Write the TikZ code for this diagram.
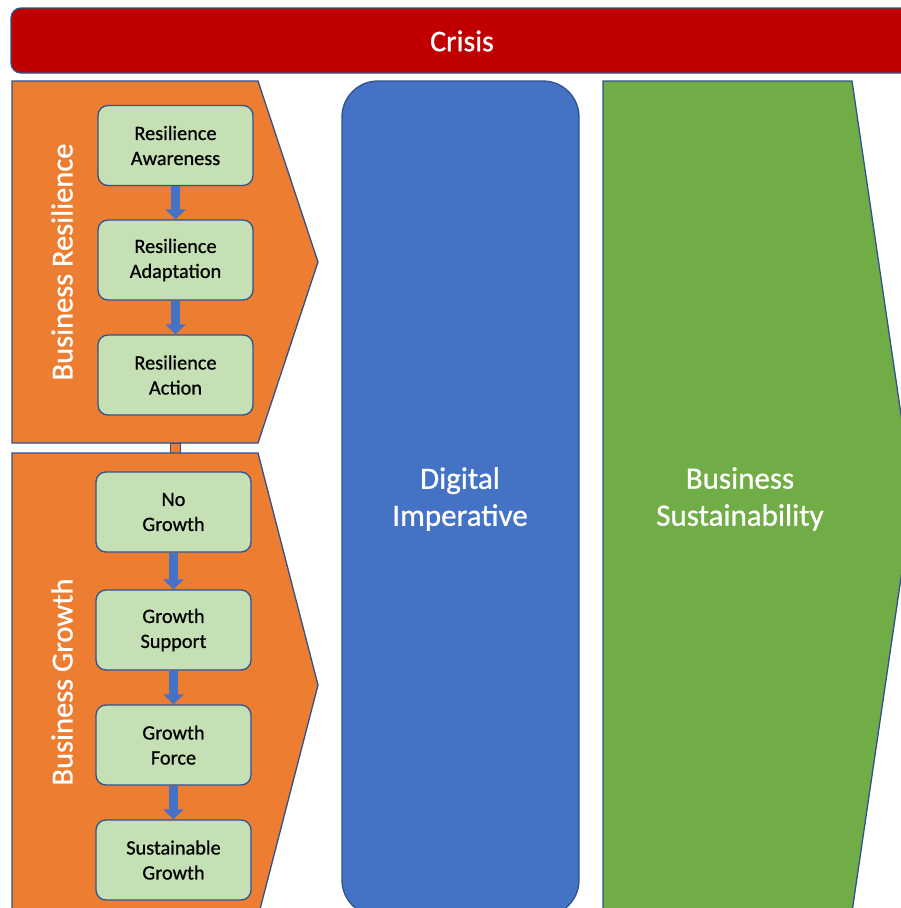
\documentclass[tikz,border=0pt]{standalone}
\usepackage{fontspec}
\setmainfont{Carlito}
\newfontfamily\labelfont{Carlito}[FakeBold=0.8]
\usetikzlibrary{arrows.meta}

\definecolor{crisisred}{HTML}{C00000}
\definecolor{phaseorange}{HTML}{ED7D31}
\definecolor{digitalblue}{HTML}{4472C4}
\definecolor{sustaingreen}{HTML}{70AD47}
\definecolor{stagegreen}{HTML}{C5E0B4}
\definecolor{edgeblue}{HTML}{2F528F}

\begin{document}
\begin{tikzpicture}[x=1pt,y=-1pt,
    shapeline/.style={draw=edgeblue, line width=1.3pt},
    stagebox/.style={shapeline, fill=stagegreen, rounded corners=10pt,
        minimum width=155pt, minimum height=80pt, align=center,
        font=\labelfont\fontsize{20.3}{25}\selectfont},
    steparrow/.style={draw=digitalblue, line width=9pt,
        -{Triangle[width=20pt,length=10pt]}},
    bigtext/.style={text=white, align=center, font=\labelfont\fontsize{31}{37}\selectfont},
    sidetext/.style={rotate=90, text=white, font=\labelfont\fontsize{30.5}{34}\selectfont}]

    % Fix the picture size and cut off what runs past the edges
    \useasboundingbox (0,0) rectangle (901,908);
    \clip (0,0) rectangle (901,908);

    % Crisis bar
    \draw[shapeline, fill=crisisred, rounded corners=10pt] (11,8) rectangle (913,73);
    \node[text=white, font=\labelfont\fontsize{30}{34}\selectfont] (crisis) at (462,41) {Crisis};

    % Business resilience chevron
    \draw[shapeline, fill=phaseorange] (12,81) -- (258,81) -- (318,262) -- (258,443) -- (12,443) -- cycle;
    % Small link between the two chevrons
    \draw[shapeline, fill=phaseorange, line width=0.8pt] (170,443) rectangle (180,453);
    % Business growth chevron
    \draw[shapeline, fill=phaseorange] (12,453) -- (258,453) -- (318,685) -- (258,917) -- (12,917) -- cycle;

    % Digital imperative block
    \draw[shapeline, fill=digitalblue, rounded corners=36pt] (342,81) rectangle (579,916);

    % Business sustainability chevron
    \draw[shapeline, fill=sustaingreen] (603,81) -- (852,81) -- (913,496) -- (852,912) -- (603,912) -- cycle;

    % Side labels of the chevrons
    \node[sidetext] (reslabel) at (62,262) {Business Resilience};
    \node[sidetext] (growlabel) at (62,682) {Business Growth};

    % Resilience stages
    \node[stagebox] (awareness) at (175.5,145.5) {Resilience\\Awareness};
    \node[stagebox] (adaptation) at (175.5,260) {Resilience\\Adaptation};
    \node[stagebox] (action) at (175.5,375) {Resilience\\Action};

    % Growth stages
    \node[stagebox] (nogrowth) at (173.5,512) {No\\Growth};
    \node[stagebox] (support) at (173.5,630) {Growth\\Support};
    \node[stagebox] (force) at (173.5,745) {Growth\\Force};
    \node[stagebox] (sustgrowth) at (173.5,860) {Sustainable\\Growth};

    % Arrows between stages
    \draw[steparrow] (awareness) -- (adaptation);
    \draw[steparrow] (adaptation) -- (action);
    \draw[steparrow] (nogrowth) -- (support);
    \draw[steparrow] (support) -- (force);
    \draw[steparrow] (force) -- (sustgrowth);

    % Block titles
    \node[bigtext] (digital) at (460,499) {Digital\\Imperative};
    \node[bigtext] (sustain) at (740,499) {Business\\Sustainability};
\end{tikzpicture}
\end{document}
